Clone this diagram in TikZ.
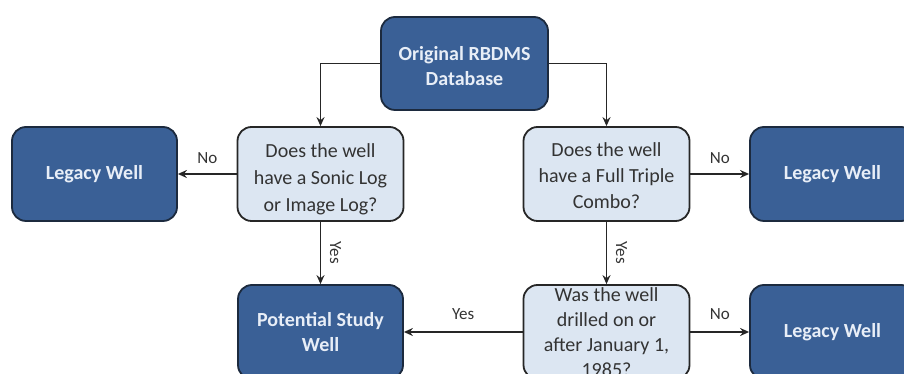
\documentclass[tikz,border=0pt]{standalone}
\usepackage{fontspec}
\setmainfont{Carlito}
\usetikzlibrary{arrows.meta,positioning}

\definecolor{darkfill}{HTML}{3A6096}
\definecolor{darkline}{HTML}{1C2A3E}
\definecolor{darktext}{HTML}{E8EEF7}
\definecolor{lightfill}{HTML}{DCE6F2}
\definecolor{lightline}{HTML}{262626}
\definecolor{lighttext}{HTML}{333333}

\tikzset{
  box/.style={rounded corners=14pt, line width=1.8pt, align=center,
    inner sep=0pt, font=\fontsize{20}{25}\selectfont},
  endbox/.style={box, fill=darkfill, draw=darkline, text=darktext,
    minimum width=165pt, minimum height=94pt, font=\bfseries\fontsize{20}{25}\selectfont},
  askbox/.style={box, fill=lightfill, draw=lightline, text=lighttext,
    minimum width=166pt, minimum height=94pt},
  flow/.style={line width=1.8pt, draw=black!85, -{Stealth[length=9pt,width=8pt,inset=3pt]}},
  tag/.style={font=\fontsize{17}{20}\selectfont, text=black!80}
}
% strut that lowers a block of lines inside its box
\newcommand{\lowerby}[1]{\rule{0pt}{#1}}

\begin{document}
\begin{tikzpicture}[x=1pt,y=1pt]
  \useasboundingbox (0,0) rectangle (904,374);
  \clip (0,0) rectangle (904,374);

  % start of the selection
  \node[endbox, minimum height=93pt, minimum width=167pt] (db) at (464.5,310.5)
    {\lowerby{20pt}Original RBDMS\\Database};

  % first row of questions and rejections
  \node[askbox] (sonic) at (320.5,200) {\lowerby{24pt}Does the well\\[2pt]have a Sonic Log\\[2pt]or Image Log?};
  \node[askbox] (combo) at (606.5,200) {\lowerby{18pt}Does the well\\[1pt]have a Full Triple\\[1pt]Combo?};
  \node[endbox] (legA) at (94.5,200) {Legacy Well};
  \node[endbox] (legB) at (832.5,200) {Legacy Well};

  % second row
  \node[endbox] (study) at (320.5,42) {Potential Study\\Well};
  \node[askbox] (date) at (606.5,42) {Was the well\\drilled on or\\after January 1,\\1985?};
  \node[endbox] (legC) at (832.5,42) {Legacy Well};

  % connectors
  \draw[flow] (db.west) -| (sonic.north);
  \draw[flow] (db.east) -| (combo.north);
  \draw[flow] (sonic.west) -- node[tag, above=6pt] {No} (legA.east);
  \draw[flow] (combo.east) -- node[tag, above=6pt] {No} (legB.west);
  \draw[flow] (sonic.south) -- node[tag, xshift=15pt, rotate=-90] {Yes} (study.north);
  \draw[flow] (combo.south) -- node[tag, xshift=15pt, rotate=-90] {Yes} (date.north);
  \draw[flow] (date.west) -- node[tag, above=8pt] {Yes} (study.east);
  \draw[flow] (date.east) -- node[tag, above=8pt] {No} (legC.west);
\end{tikzpicture}
\end{document}
